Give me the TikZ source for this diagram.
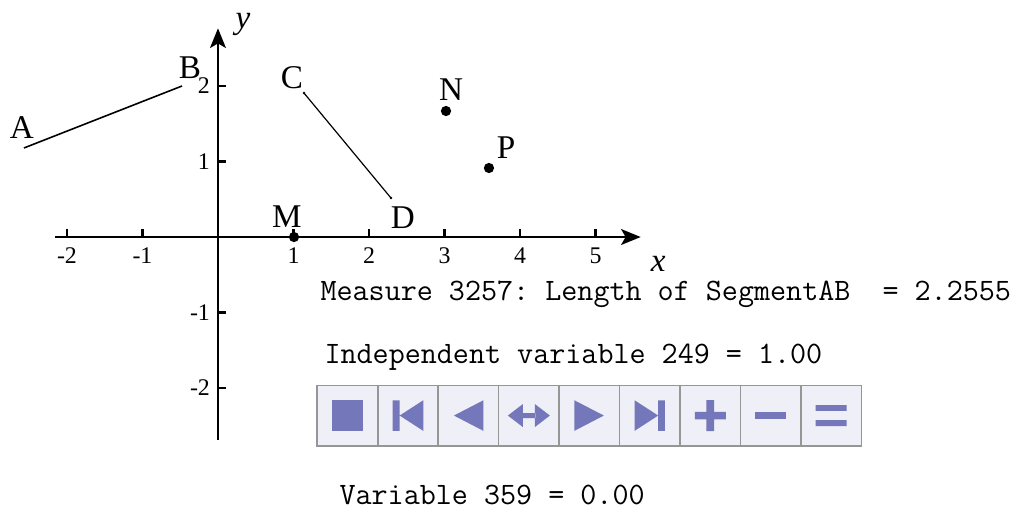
\documentclass[tikz,border=0pt]{standalone}
\usepackage{fontspec}
\setmainfont{Liberation Serif}
\usetikzlibrary{arrows.meta}
\definecolor{btnfill}{RGB}{239,239,248}
\definecolor{btnicon}{RGB}{116,119,185}
\definecolor{btnline}{RGB}{150,150,150}
\begin{document}
\begin{tikzpicture}[
			every node/.style={font=\normalsize},
			ptlabel/.style={font=\fontsize{12.5}{14}\selectfont, inner sep=0pt},
			ticklabel/.style={font=\fontsize{9}{10}\selectfont, inner sep=0pt},
			readout/.style={font=\ttfamily\fontsize{11.75}{13}\selectfont\frenchspacing, anchor=base west, inner xsep=0pt, inner ysep=1pt},
			btn/.style={draw=btnline, fill=btnfill, line width=0.6pt, minimum width=0.8007cm, minimum height=0.8007cm, inner sep=0pt, outer sep=0pt},
			axis/.style={line width=0.8pt},
			declare function={
				tk=0.106;
				bx=1.7155;
				by=-2.3646;
				bw=0.8007;
			}
			]
			\useasboundingbox (-2.887,-3.589) rectangle (10.556,3.139);
			\coordinate (xs) at (-2.159,0);
			\coordinate (xe) at (5.599,0);
			\coordinate (ys) at (0,-2.689);
			\coordinate (ye) at (0,2.764);
			\draw[axis, -{Stealth[length=0.26cm, width=0.21cm, inset=0.06cm]}] (xs) -- (xe);
			\draw[axis, -{Stealth[length=0.26cm, width=0.21cm, inset=0.06cm]}] (ys) -- (ye);
			\foreach \t in {-2,-1,1,2,3,4,5} {
				\draw[axis] (\t,0) -- (\t,{tk});
				\node[ticklabel] (xl\t) at (\t,-0.25) {\t};
			}
			\foreach \t in {-2,-1,1,2} {
				\draw[axis] (0,\t) -- ({tk},\t);
				\node[ticklabel, anchor=east] (yl\t) at (-0.1,\t) {\t};
			}
			\node[ptlabel, font=\fontsize{12.5}{14}\selectfont\itshape] (ly) at (0.33,2.82) {y};
			\node[ptlabel, font=\fontsize{12.5}{14}\selectfont\itshape] (lx) at (5.83,-0.36) {x};
			\coordinate (A) at (-2.570,1.179);
			\coordinate (B) at (-0.477,2.0);
			\coordinate (C) at (1.139,1.907);
			\coordinate (D) at (2.291,0.517);
			\coordinate (M) at (1.007,0);
			\coordinate (N) at (3.020,1.669);
			\coordinate (P) at (3.589,0.914);
			\draw[line width=0.6pt] (A) -- (B);
			\draw[line width=0.45pt] (C) -- (D);
			\fill (C) circle (0.018);
			\fill (D) circle (0.018);
			\fill (M) circle (0.068);
			\fill (N) circle (0.068);
			\fill (P) circle (0.068);
			\node[ptlabel] (lA) at (-2.596,1.444) {A};
			\node[ptlabel] (lB) at (-0.371,2.238) {B};
			\node[ptlabel] (lC) at (0.980,2.106) {C};
			\node[ptlabel] (lD) at (2.450,0.252) {D};
			\node[ptlabel] (lM) at (0.914,0.265) {M};
			\node[ptlabel] (lN) at (3.086,1.947) {N};
			\node[ptlabel] (lP) at (3.815,1.179) {P};
			\node[readout] (measure) at (1.351,-0.835) {Measure 3257: Length of SegmentAB\ \ = 2.2555};
			\node[readout] (indep) at (1.404,-1.68) {Independent variable 249 = 1.00};
			\node[readout] (var) at (1.603,-3.54) {Variable 359 = 0.00};
			\foreach \i in {0,...,8}
				\node[btn] (btn\i) at ({bx+bw*\i},{by}) {};
			\def\drawicon#1#2{
				\begin{scope}[shift={(#1.center)}, x=0.013245cm, y=0.013245cm]
					\fill[btnicon] #2;
				\end{scope}
			}
			\drawicon{btn0}{(-15.3,-15.3) rectangle (15.3,15.3)}
			\drawicon{btn1}{(-15.3,-15.3) rectangle (-8.3,15.3) (-8.3,0) -- (15.3,15.3) -- (15.3,-15.3) -- cycle}
			\drawicon{btn2}{(-14.5,0) -- (15,15.3) -- (15,-15.3) -- cycle}
			\drawicon{btn3}{(-21,0) -- (-6,11.5) -- (-6,-11.5) -- cycle (-6.5,-2.5) rectangle (6.5,2.5) (21,0) -- (6,11.5) -- (6,-11.5) -- cycle}
			\drawicon{btn4}{(14.5,0) -- (-15,15.3) -- (-15,-15.3) -- cycle}
			\drawicon{btn5}{(8.4,0) -- (-15.2,15.3) -- (-15.2,-15.3) -- cycle (8.4,-15.3) rectangle (15,15.3)}
			\drawicon{btn6}{(-15.5,-3.8) rectangle (15.5,3.8) (-3.8,-15.5) rectangle (3.8,15.5)}
			\drawicon{btn7}{(-15.5,-3.6) rectangle (15.5,3.6)}
			\drawicon{btn8}{(-15.5,-10.5) rectangle (15.5,-4.6) (-15.5,4.6) rectangle (15.5,10.5)}
		\end{tikzpicture}
\end{document}
